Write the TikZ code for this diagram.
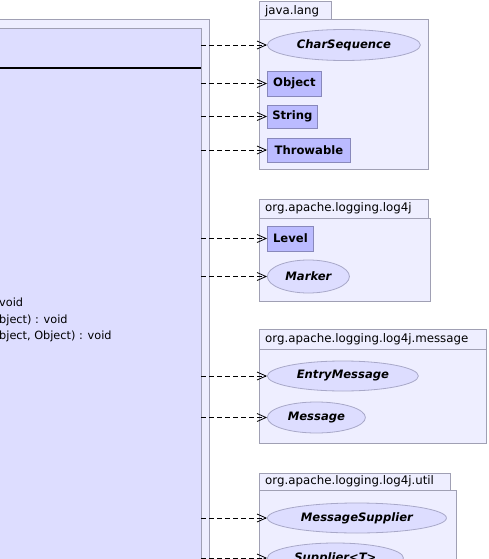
\documentclass[tikz,border=0pt]{standalone}
\usepackage{fontspec}
\setmainfont{DejaVu Sans}
\usetikzlibrary{arrows.meta,shapes.geometric,positioning}
\definecolor{pkgfill}{HTML}{EEEEFF}
\definecolor{pkgline}{HTML}{A0A0B4}
\definecolor{clsfill}{HTML}{DDDDFF}
\definecolor{typefill}{HTML}{BBBBFF}
\definecolor{typeline}{HTML}{8888BB}
\definecolor{ifline}{HTML}{A8A8C8}
\newcommand{\txtsize}{\fontsize{11.3}{13}\selectfont}
\newcommand{\tabsize}{\fontsize{11.8}{13}\selectfont}
\newcommand{\typesize}{\fontsize{11.6}{13}\selectfont}
\tikzset{>={Straight Barb[length=9pt,width=8pt]}}
\begin{document}
\begin{tikzpicture}[x=1pt,y=-1pt,
    pkg/.style={draw=pkgline,fill=pkgfill,line width=1pt},
    cls/.style={draw=typeline,fill=typefill,font=\bfseries\typesize,anchor=west,
      inner sep=0pt,minimum height=24pt,line width=.8pt},
    ifc/.style={ellipse,draw=ifline,fill=clsfill,font=\bfseries\itshape\typesize,
      anchor=west,inner sep=0pt,minimum height=31pt,line width=.8pt},
    lbl/.style={anchor=west,font=\txtsize,inner sep=2pt},
    tab/.style={anchor=west,font=\tabsize,inner sep=2pt},
    dep/.style={->,dash pattern=on 5pt off 3pt,line width=.8pt}]
  \clip (0,0) rectangle (489,559);
  % class in its package
  \draw[pkg] (-5,20) rectangle (209,570);
  \draw[draw=pkgline,fill=clsfill,line width=1pt] (-5,29) rectangle (201,570);
  \draw[line width=1.6pt] (-5,68)--(201,68);
  \node[lbl] (m1) at (-3,302) {void};
  \node[lbl] (m2) at (-3,320) {bject) : void};
  \node[lbl] (m3) at (-3,336) {bject, Object) : void};
  \coordinate (src) at (201,0);

  % java.lang
  \draw[pkg] (259,2) rectangle (331,20);
  \draw[pkg] (259,20) rectangle (428,169);
  \node[tab] (langlbl) at (263,11) {java.lang};
  \node[ifc,minimum width=153pt] (charseq) at (267,45) {CharSequence};
  \node[cls,minimum width=54pt,minimum height=25pt] (object) at (267,83.5) {Object};
  \node[cls,minimum width=50pt,minimum height=23pt] (string) at (267,116.5) {String};
  \node[cls,minimum width=83pt] (throwable) at (267,150) {Throwable};

  % org.apache.logging.log4j
  \draw[pkg] (259,199) rectangle (428,218);
  \draw[pkg] (259,218) rectangle (430,301);
  \node[tab] (log4jlbl) at (263,208.5) {org.apache.logging.log4j};
  \node[cls,minimum width=46pt,minimum height=25pt] (level) at (267,238.5) {Level};
  \node[ifc,minimum width=82pt,minimum height=33pt] (marker) at (267,276.5) {Marker};

  % org.apache.logging.log4j.message
  \draw[pkg] (259,329) rectangle (486,349);
  \draw[pkg] (259,349) rectangle (486,443);
  \node[tab] (msglbl) at (263,339) {org.apache.logging.log4j.message};
  \node[ifc,minimum width=151pt,minimum height=30pt] (entrymsg) at (267,376) {EntryMessage};
  \node[ifc,minimum width=98pt] (message) at (267,417.5) {Message};

  % org.apache.logging.log4j.util
  \draw[pkg] (259,473) rectangle (450,490);
  \draw[pkg] (259,490) rectangle (456,570);
  \node[tab] (utillbl) at (263,481.5) {org.apache.logging.log4j.util};
  \node[ifc,minimum width=179pt,minimum height=30pt] (msgsupplier) at (267,518) {MessageSupplier};
  \node[ifc,minimum width=136pt,minimum height=30pt] (supplier) at (267,558) {Supplier<T>};

  % dependencies
  \foreach \t in {charseq,object,string,throwable,level,marker,entrymsg,message,msgsupplier,supplier}
    \draw[dep] (src |- \t.west) -- (\t.west);
\end{tikzpicture}
\end{document}
